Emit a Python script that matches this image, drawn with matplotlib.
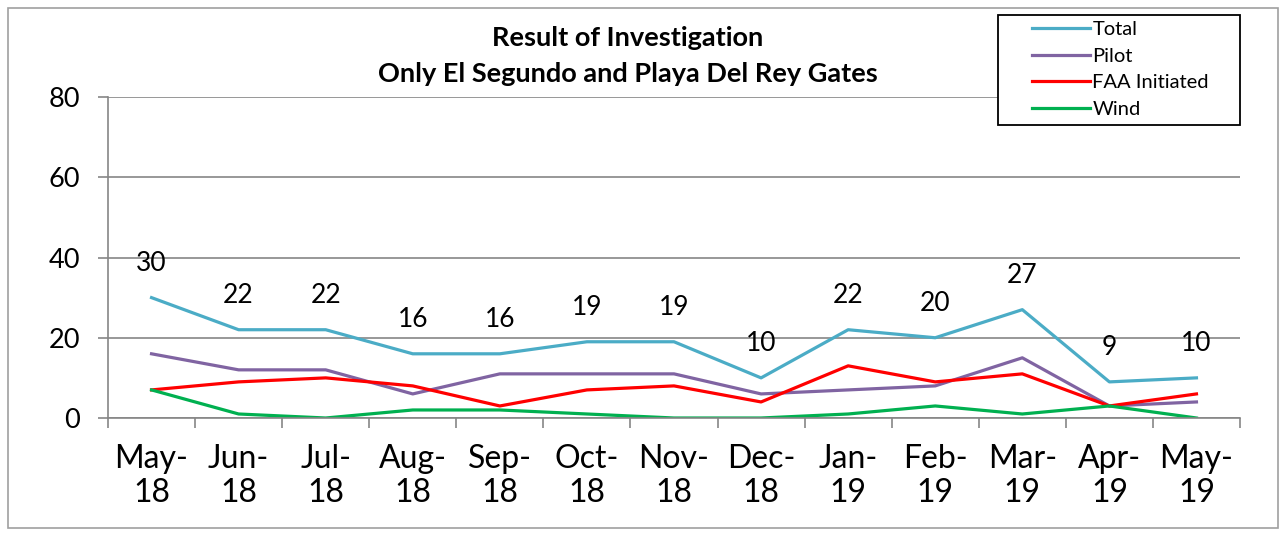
import matplotlib
matplotlib.use("Agg")
import matplotlib.pyplot as plt
import numpy as np

plt.rcParams['font.family'] = ['Lato', 'DejaVu Sans']

months = ['May-\n18', 'Jun-\n18', 'Jul-\n18', 'Aug-\n18', 'Sep-\n18', 'Oct-\n18', 'Nov-\n18',
          'Dec-\n18', 'Jan-\n19', 'Feb-\n19', 'Mar-\n19', 'Apr-\n19', 'May-\n19']
total = [30, 22, 22, 16, 16, 19, 19, 10, 22, 20, 27, 9, 10]
pilot = [16, 12, 12, 6, 11, 11, 11, 6, 7, 8, 15, 3, 4]
faa = [7, 9, 10, 8, 3, 7, 8, 4, 13, 9, 11, 3, 6]
wind = [7, 1, 0, 2, 2, 1, 0, 0, 1, 3, 1, 3, 0]

W, H = 1286, 533
fig = plt.figure(figsize=(W / 100, H / 100), dpi=100)
# outer chart border
fig.patches.append(plt.Rectangle((0.006, 0.01), 0.988, 0.975, transform=fig.transFigure,
                                 fill=False, edgecolor='#a0a0a0', linewidth=1.2))
ax = fig.add_axes([108 / W, 1 - 418 / H, (1240 - 108) / W, (418 - 97) / H])

x = np.arange(len(months))
ax.plot(x, total, color='#4BACC6', lw=2.3, label='Total')
ax.plot(x, pilot, color='#8064A2', lw=2.3, label='Pilot')
ax.plot(x, faa, color='#FF0000', lw=2.3, label='FAA Initiated')
ax.plot(x, wind, color='#00B050', lw=2.3, label='Wind')

for xi, v in zip(x, total):
    ax.text(xi, v + 8.5, str(v), ha='center', va='center', fontsize=19)

ax.set_xlim(-0.5, len(months) - 0.5)
ax.set_ylim(0, 80)
ax.set_yticks([0, 20, 40, 60, 80])
ax.yaxis.grid(True, color='#868686', lw=1.2)
ax.set_axisbelow(True)
ax.set_xticks(x)
ax.set_xticklabels(months, fontsize=23, linespacing=1.15)
ax.set_xticks(np.arange(-0.5, len(months)), minor=True)
ax.tick_params(axis='x', which='major', length=0, pad=19)
ax.tick_params(axis='x', which='minor', length=7, color='#868686', width=1.2)
ax.tick_params(axis='y', labelsize=19.5, length=7, color='#868686', width=1.2, pad=13)
for s in ['top', 'right']:
    ax.spines[s].set_visible(False)
for s in ['left', 'bottom']:
    ax.spines[s].set_color('#868686')
    ax.spines[s].set_linewidth(1.2)

fig.text(628 / W, 1 - 38 / H, 'Result of Investigation', ha='center', va='center',
         fontsize=19.5, fontweight='bold')
fig.text(628 / W, 1 - 74 / H, 'Only El Segundo and Playa Del Rey Gates', ha='center',
         va='center', fontsize=19.5, fontweight='bold')

# legend box drawn separately so it can be wider than its entries
fig.patches.append(plt.Rectangle((998 / W, 1 - 125 / H), (1240 - 998) / W, 110 / H,
                                 transform=fig.transFigure, facecolor='white',
                                 edgecolor='black', linewidth=1.3, zorder=5))
leg = fig.legend(loc='upper left', bbox_to_anchor=(1028 / W, 1 - 17 / H), fontsize=14.5,
                 frameon=False, handlelength=2.9, handletextpad=0.1, labelspacing=0.47,
                 borderpad=0.2, borderaxespad=0)
leg.set_zorder(6)

fig.savefig('out.png', dpi=100)
